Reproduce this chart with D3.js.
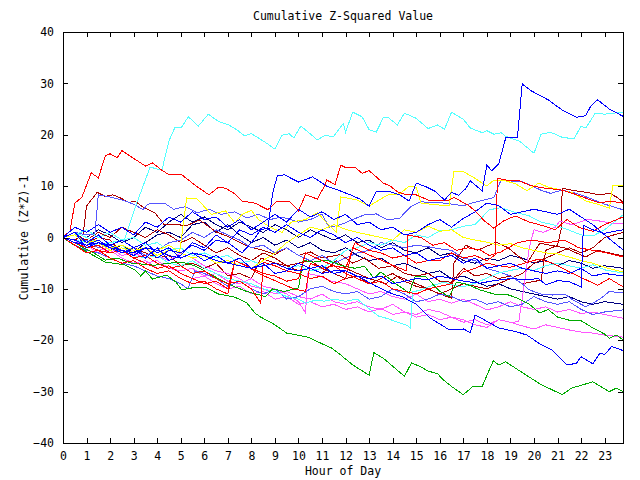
<!DOCTYPE html>
<html><head><meta charset="utf-8">
<script src="https://cdn.jsdelivr.net/npm/d3@7"></script>
<style>
html,body{margin:0;padding:0;background:#fff;}
text{font-family:"DejaVu Sans Mono",monospace;font-size:11.5px;fill:#000;}
</style></head>
<body><svg id="c" width="640" height="480"></svg>
<script>
// ---- data: [hour, cumulative value] ----
const hourTicks = d3.range(0, 24);
const valueTicks = [-40, -30, -20, -10, 0, 10, 20, 30, 40];
const xMax = 23.78;

const cyanTop = [[0,0],[0.5,-0.5],[1,-1],[1.5,-1.5],[2,-1],[2.6,-0.5],[3.1,6.3],[3.7,13.7],[4.2,13.1],[4.5,18.8],[4.76,21.5],[5.04,21.5],[5.32,23.5],[5.75,21.7],[6.17,24],[6.6,22.6],[7.0,22],[7.4,20.9],[7.7,19.8],[8.0,20.2],[8.15,19.8],[8.6,18.5],[9.0,17.2],[9.3,19.9],[9.6,20.2],[9.8,19.4],[10.1,21.7],[10.8,19],[11.1,19.8],[11.5,19.7],[11.9,22.2],[12.0,20.5],[12.3,24.4],[12.7,23.5],[13.0,21],[13.3,20.5],[13.6,23.3],[13.8,23.4],[14.2,21.9],[14.5,24.2],[15.0,23.2],[15.5,21.2],[15.9,21.9],[16.2,21.1],[16.5,24.4],[17.0,23],[17.3,21.3],[17.8,20.4],[18.0,20.8],[18.3,20.1],[18.6,20.4],[18.8,19.7],[19.4,18.7],[20.0,16.4],[20.3,20.1],[20.7,20.5],[21.2,19.5],[21.7,19.2],[22.0,21.7],[22.2,21.3],[22.6,24.2],[23.0,24.0],[23.78,24.4]];
const blueTop = [[0,0],[0.5,1],[1,-2],[1.5,-1],[2,-1.5],[2.5,-2.5],[3,-3.5],[3.5,-2],[4,-4],[4.5,-2.5],[5,-3],[5.5,-1.5],[6,-2.5],[6.5,-0.5],[7,-1],[7.6,-3],[8.0,-1],[8.4,1.5],[8.7,1.8],[8.9,8.6],[9.1,12],[9.4,12.2],[10.0,10.8],[10.6,11.8],[11.2,10],[11.7,9.2],[12.2,8.3],[12.6,7.5],[13.0,6.1],[13.3,8.9],[13.9,8.9],[14.3,8.3],[14.7,7.1],[15.0,10.6],[15.4,9.9],[15.8,9],[16.2,7.3],[16.5,8.8],[16.8,8.2],[17.1,9.5],[17.3,11],[17.8,9.1],[18.0,14.1],[18.2,13],[18.5,14.3],[18.8,19.4],[19.3,19.5],[19.5,29.9],[19.9,28.5],[20.6,26.8],[21.2,24.8],[21.8,23.4],[22.2,23.7],[22.4,25.5],[22.7,26.8],[23.2,25],[23.78,23.6]];
const greenBottom = [[0,0],[0.3,-1],[1.1,-3],[1.8,-4.8],[2.6,-5.3],[3.05,-6.3],[3.3,-7.5],[3.5,-6.5],[3.8,-8.1],[4.4,-7.3],[4.8,-8.7],[5.05,-10.2],[5.6,-9.7],[6.1,-9.8],[6.6,-11],[7.2,-11.5],[7.5,-12],[7.8,-12.7],[8.15,-14.7],[8.4,-15.5],[8.9,-16.7],[9.5,-18.6],[10.4,-19.4],[11.1,-20.9],[11.4,-21.5],[11.8,-22.9],[12.3,-24.8],[13.0,-26.8],[13.2,-22.4],[13.6,-23.5],[14.5,-27],[14.8,-24.4],[15.2,-25.2],[15.5,-26],[15.9,-26.5],[16.15,-27.7],[16.5,-29],[17.0,-30.6],[17.4,-29],[17.8,-29],[18.27,-24],[18.5,-24.8],[18.8,-24.2],[19.1,-25.1],[20.25,-28.5],[21.2,-30.6],[21.6,-29.3],[22.5,-28.1],[23.2,-30],[23.5,-29.3],[23.78,-30]];
const redTop = [[0,0],[0.3,1.3],[0.5,6.7],[0.8,7.8],[1.2,12.6],[1.5,11.6],[1.8,15.9],[2.0,16.3],[2.3,15.5],[2.5,16.9],[2.9,15.7],[3.5,13.9],[3.8,14.5],[4.2,13.1],[4.5,12.2],[5.05,12.2],[5.6,10.2],[6.2,8.3],[6.6,9.8],[6.9,9.6],[7.3,8.5],[7.6,7.1],[8.15,6.7],[8.7,5.4],[9.1,7.1],[9.6,7.1],[10.0,5.2],[10.3,8.3],[10.8,7.5],[11.1,10],[11.2,11.2],[11.55,10.3],[11.8,14.1],[12.0,13.6],[12.4,13.7],[12.7,12.5],[13.0,13],[13.6,10.6],[13.9,10],[14.2,8.9],[14.6,8.3],[15.0,8.3],[15.5,7.3],[16.3,7.1],[16.6,7.8],[17.2,6.3],[17.5,5.2],[17.9,3.2],[18.3,1.8],[18.7,3.2],[19.2,4.2],[19.8,3],[20.3,2.4],[20.9,1.5],[21.4,3.5],[21.9,2],[22.5,1.2],[23.0,2.5],[23.78,4]];
const red2 = [[0,0],[0.5,-1],[1,-1.5],[1.5,-2.5],[2,-3],[2.5,-2.5],[3,-4],[3.5,-5],[4,-6],[4.5,-5.5],[5,-7],[5.5,-8],[6,-9],[6.5,-8.5],[7,-10],[7.3,-4.5],[8,-6],[8.5,-7],[9,-7.5],[9.5,-8.5],[10,-8],[10.3,-3],[11,-4.5],[11.5,-5.5],[12,-6],[12.4,-1],[13,-2.5],[13.5,-3],[14,-4],[14.5,-3.5],[15,-5],[15.5,-4.5],[16,-4.5],[16.5,-3],[17,-4],[17.5,-3.5],[18,-4.5],[18.35,-3.4],[18.45,11.5],[18.8,11.2],[19.4,11],[19.8,10.2],[20.3,9.7],[20.9,9.4],[21.2,9.2],[21.7,8.5],[22.3,7.5],[22.8,6.7],[23.2,7.1],[23.78,6.7]];
const yellow1 = [[0,0],[0.5,0.5],[1,-1],[1.5,-0.5],[2,-2],[2.5,-1.5],[3,-2.5],[3.5,-2],[4,-3.5],[4.5,-2.5],[4.95,-3],[5.25,7.7],[5.7,7.5],[6.3,4.5],[6.9,5.2],[7.3,2.8],[7.6,4.5],[8.0,5.3],[8.3,3.5],[8.8,2.0],[9.3,1],[9.7,3],[10.3,3.5],[10.8,4.8],[11.3,2.4],[11.6,1],[11.8,7.9],[12.5,7.3],[13.0,6.1],[13.5,7.5],[13.8,8.3],[14.3,8.5],[14.7,10],[15.0,9.8],[15.2,6.7],[16.0,6.3],[16.4,6.3],[16.6,12.9],[17.0,12.8],[17.4,11.8],[17.8,10.6],[18.0,10],[18.3,11.2],[18.8,11.0],[19.2,10.5],[19.7,9.1],[20.2,10.6],[20.6,9.8],[21.2,9.2],[21.7,8.6],[22.2,7.1],[22.7,6.5],[23.2,5.7],[23.35,10.2],[23.78,10.2]];
const darkred1 = [[0,0],[0.5,-0.5],[0.85,0.5],[1.0,6.1],[1.45,8.8],[1.8,8],[2.1,8.3],[2.4,7.8],[2.8,6.8],[3.05,7.1],[3.4,5.9],[3.9,4.8],[4.3,2.5],[5.3,2.4],[5.8,3.4],[6.5,1.1],[7.0,0.2],[7.9,-1.8],[8.5,-2.5],[9.0,-3.3],[9.5,-2],[10,-3.5],[10.5,-2.8],[11,-4],[11.8,-3.3],[12.3,-5],[12.8,-4],[13.4,-6],[14,-5.5],[14.5,-7],[15,-7.5],[15.5,-7],[16,-8.5],[16.5,-8.7],[17,-6],[17.5,-7.5],[18,-7],[18.5,-8],[19,-7.5],[19.5,-9],[20.3,-8.3],[20.5,-2.5],[21.0,-1.5],[21.15,1.5],[21.2,9.6],[21.6,9.2],[22.2,8.8],[22.8,8.3],[23.2,8.6],[23.5,7.9],[23.78,6.9]];
const darkred2 = [[0,0],[0.5,0.5],[1,-1],[1.5,0],[2,-0.5],[2.5,-3],[3,-2],[3.5,-3],[4,-4],[4.5,-3.5],[5,-5.5],[5.5,-5],[6,-6],[6.5,-5],[7,-7.5],[7.5,-7],[8,-8],[8.4,-4],[9,-5],[9.5,-5.5],[10,-6.5],[10.5,-6],[11,-7],[11.6,-4.5],[12,-6],[12.5,-7],[13,-8],[13.7,-9],[14.2,-7.5],[15,-9],[15.5,-10],[16,-11],[16.5,-11.8],[16.6,-5],[17.1,-1.5],[17.6,-2.5],[18.4,-0.9],[18.9,-2],[19.7,-5],[20.25,-1.1],[20.7,-1.5],[21.3,-2],[21.8,-3],[22.2,-3.8],[22.7,-2.5],[23.2,-3],[23.78,-3.6]];
const darkred3 = [[0,0],[0.5,0.5],[1,-0.5],[1.5,1],[2,0],[2.5,2],[3,1],[3.5,0],[4,1.5],[4.5,0.5],[5,-1],[5.5,0],[6,-1.5],[6.5,-3],[7,-2],[7.5,-3.5],[8,-4.5],[8.5,-3],[9,-4],[9.5,-5.5],[10,-5],[10.5,-4.5],[11,-6],[11.5,-7],[12,-8],[12.5,-7.5],[13,-9],[13.5,-8],[14,-7],[14.5,-8.5],[15,-9.5],[15.5,-10],[16,-11],[16.5,-10],[17,-9],[17.5,-9.5],[18,-10],[18.5,-9],[19,-8],[19.5,-7],[20,-5],[20.5,-4],[21,-3],[21.5,-2],[22,-3],[22.5,-2],[23,0],[23.78,1]];
const magenta1 = [[0,0],[0.5,-1],[1,-1.5],[1.5,-3],[2,-2.5],[2.5,-4],[3,-5],[3.5,-4.5],[4,-6],[4.5,-5.5],[5,-7],[5.5,-8],[6,-7.5],[6.5,-9],[7,-10],[7.5,-9.5],[8,-11],[8.5,-10.5],[9,-12],[9.5,-11.5],[10,-13],[10.5,-12.5],[11,-13.5],[11.5,-13],[12,-14],[12.5,-13.5],[13,-14.5],[13.5,-13.8],[14,-15],[14.5,-14.5],[15,-15.5],[15.5,-15],[16,-16],[16.5,-15.5],[17,-16.5],[17.5,-16],[18,-17],[18.5,-16],[19,-16.5],[19.35,-16.4],[19.5,-12],[19.8,-2],[20.0,1.5],[20.4,1],[20.9,2],[21.1,3.2],[21.6,2.5],[22.3,3.5],[22.8,3.2],[23.3,2.8],[23.78,2.7]];
const magenta2 = [[0,0],[0.5,-0.5],[1,-2],[1.5,-1.5],[2,-3],[2.5,-2.5],[3,-4],[3.5,-5],[4,-4.5],[4.5,-6],[5,-6.5],[5.5,-6],[6,-7.5],[6.5,-7],[7,-8.5],[7.5,-9],[8,-8],[8.5,-9.5],[9,-10],[9.5,-11],[10,-12.5],[10.3,-14.7],[10.4,-7],[10.9,-7.5],[11.4,-8.5],[12,-9],[12.5,-10],[13,-11],[13.5,-10.5],[14,-11.5],[14.5,-12],[15,-11],[15.5,-12.5],[16,-12],[16.5,-12.8],[17,-12],[17.5,-13],[18,-14.1],[18.5,-13.5],[19,-12.5],[19.5,-13.5],[20,-14],[20.5,-13.5],[21,-14.5],[21.5,-14],[22,-14.8],[22.5,-14.5],[23,-15],[23.78,-15.7]];
const magenta3 = [[0,0],[0.5,-1],[1,-1.5],[1.5,-2.5],[2,-2],[2.5,-3.5],[3,-3],[3.5,-4],[4,-3.5],[4.5,-4.5],[5,-3],[5.5,-4],[6,-5.5],[6.5,-6.5],[7,-7],[7.5,-8],[8,-9.5],[8.5,-10],[9,-11],[9.5,-10.5],[10,-11.5],[10.5,-12],[11,-11],[11.5,-12.5],[12,-13],[12.5,-12.5],[13,-13.5],[13.5,-14],[14,-13],[14.5,-14.5],[15,-15],[15.5,-14],[16,-14.5],[16.5,-15.5],[17,-16],[17.5,-17],[18,-17.5],[18.5,-16],[19,-16.5],[19.5,-17.2],[20,-17.8],[20.5,-17],[21,-17.5],[21.5,-18],[22,-18.4],[22.5,-18.6],[23,-19],[23.78,-19.4]];
const blueBottom = [[0,0],[0.5,-0.5],[1,-1.5],[1.5,-1],[2,-2],[2.5,-2.5],[3,-3],[3.5,-2],[4,-2.5],[4.5,-3.5],[5,-4],[5.5,-3],[6,-3.5],[6.5,-4.5],[7,-5],[7.5,-5.5],[8,-6],[8.5,-5.5],[9,-5],[9.5,-6],[10,-6.5],[10.5,-6],[11,-7],[11.5,-6.5],[12,-6.5],[12.7,-8],[13.3,-9.5],[14,-11],[14.4,-11.5],[15,-13],[15.6,-15.7],[16.2,-17.4],[16.4,-18],[17.0,-17.8],[17.3,-18.5],[17.5,-15.1],[17.8,-15.8],[18.5,-17.6],[19.3,-18.4],[19.7,-19],[20.25,-20.7],[20.8,-22],[21.4,-24.8],[21.8,-24.5],[22.0,-23.2],[22.5,-24.6],[22.8,-22.5],[23.0,-22.8],[23.3,-21.2],[23.78,-22]];
const green2 = [[0,0],[0.5,-1],[0.9,-2.1],[1.3,-3],[1.8,-4.4],[2.3,-4],[2.9,-5],[3.9,-5.4],[4.5,-5],[5.05,-4.8],[5.6,-5.5],[6.2,-7],[6.8,-8.5],[7.3,-9.6],[7.8,-10.5],[8.2,-11],[8.6,-11.5],[8.9,-10],[9.4,-10.5],[10.0,-9.8],[10.2,-4.4],[10.6,-4.8],[11.2,-4.4],[11.8,-5.4],[12.4,-6],[12.8,-5.6],[13.2,-7.9],[13.5,-6.7],[14.1,-8.9],[14.7,-10.8],[14.95,-7.6],[15.4,-7.6],[16.0,-10.5],[16.4,-11.5],[16.7,-8.7],[17.1,-9],[17.7,-10.2],[18.3,-11],[18.8,-11],[19.3,-11.8],[19.8,-13],[20.25,-14.7],[20.6,-14],[21.0,-15.5],[21.5,-16.1],[22.0,-16.2],[22.5,-17.6],[23.0,-18.8],[23.2,-19.6],[23.5,-19],[23.78,-19.9]];
const slate1 = [[0,0],[0.5,-1],[1,-0.5],[1.5,-2],[2,-1.5],[2.5,-3],[3,-2],[3.5,-3.5],[4,-2.5],[4.5,-1],[5,-0.5],[5.5,1],[6,0],[6.5,1.5],[7,0.5],[7.5,-0.5],[8,-2],[8.5,-1.5],[9,-3],[9.5,-2],[10,-3.5],[10.5,-4.5],[11,-3.5],[11.5,-5],[12,-4],[12.5,-3],[13,-2.5],[13.5,-1],[14,-1.5],[14.5,-2],[15,-1.5],[15.5,-1.8],[16,-2.2],[16.5,-2.5],[17,-4],[17.5,-4.5],[18,-6],[18.5,-6.7],[19,-7.5],[19.5,-9],[19.8,-10.2],[20.3,-11],[20.8,-11.2],[21.3,-11],[21.6,-12],[22.2,-13.5],[22.8,-12],[23.2,-10.5],[23.78,-10.8]];
const slate2 = [[0,0],[0.5,-1.5],[1,-2.5],[1.5,-3],[2,-4],[2.5,-5],[3,-5.5],[3.5,-6.5],[4,-7.5],[4.5,-8],[5,-9],[5.3,-10],[5.6,-6.5],[6,-7],[6.5,-8],[7,-9.5],[7.5,-8.5],[8,-10],[8.5,-11],[9,-10],[9.5,-12],[10,-11.5],[10.5,-10],[11,-9.5],[11.5,-10.5],[12,-11],[12.5,-10.5],[13,-12],[13.5,-11.5],[14,-10],[14.5,-11],[15,-12.5],[15.5,-12],[16,-11],[16.5,-11.5],[17,-12.5],[17.5,-12],[18,-13],[18.5,-12.5],[19,-13.5],[19.5,-13],[20,-11.5],[20.5,-12.5],[21,-13],[21.5,-12.5],[22,-14],[22.5,-15],[23,-14.5],[23.78,-14.1]];
const slate3 = [[0,0],[0.5,1],[1,0.5],[1.35,0.5],[1.5,8.3],[1.9,8],[2.5,7.3],[3.0,6.5],[3.4,5.4],[3.6,6.5],[4.3,6.7],[4.7,5.5],[5.2,6],[5.7,4.8],[6.2,5.5],[6.7,4.5],[7.3,5],[7.8,3.8],[8.3,4.5],[8.8,3.5],[9.3,4],[10,3],[10.5,3.5],[11.0,4.5],[11.3,2],[11.8,2.5],[12.3,3.5],[12.8,4.4],[13.3,4.6],[13.8,3.4],[14.3,3.8],[14.8,6.1],[15.2,7],[15.5,6.8],[16,6.8],[16.5,6.5],[17,6.2],[17.6,7],[18.3,7.8],[18.6,11.2],[19.0,10.8],[19.4,11],[19.8,10.3],[20.3,9.2],[20.7,8.6],[21.2,9.2],[21.8,8.6],[22.4,7.6],[23.0,6.5],[23.78,5.4]];
const cyan2 = [[0,0],[0.5,1],[1,0],[1.5,-1],[2,-2],[2.5,-1.5],[3,-3.5],[3.5,-4],[4,-3.5],[4.5,-5],[5,-5.5],[5.5,-4.5],[6,-6],[6.5,-7],[7,-8],[7.5,-8.5],[8,-9],[8.5,-10],[9,-10.5],[9.5,-11.5],[10,-12],[10.3,-12.8],[10.7,-12.2],[11.1,-12.4],[11.5,-12],[12,-12.4],[12.5,-12],[12.9,-13.5],[13.4,-15.3],[13.8,-15.8],[14.2,-16.5],[14.6,-17.1],[14.75,-17.6],[14.85,-10.6],[15.2,-10.2],[15.7,-9.3],[16.2,-8.7],[16.6,-9.3],[17.0,-9.6],[17.5,-8.9],[18.0,-7.9],[18.5,-6.9],[19.0,-6.4],[19.5,-6],[20.0,-6.4],[20.5,-5.5],[21.0,-5],[21.5,-5.5],[22.0,-6],[22.5,-5.3],[23.0,-6.3],[23.78,-6.9]];
const cyan3 = [[0,0],[0.5,0.5],[1,1.5],[1.5,0],[2,1],[2.5,-0.5],[3,0],[3.5,-1.5],[4,-1],[4.5,-2.5],[5,-2],[5.5,-3.5],[6,-3],[6.5,-4],[7,-3.5],[7.5,-5],[8,-4.5],[8.5,-5.5],[9,-5],[9.5,-6],[10,-5.5],[10.5,-6.5],[11,-6],[11.5,-4.5],[12,-2.5],[12.5,-2],[13,-1],[13.5,-1.5],[14,-0.5],[14.5,-1],[15,0.5],[15.5,0],[16,1.3],[16.5,1.5],[17,2.2],[17.5,2.5],[18.1,5.4],[18.6,5.8],[19.2,4.9],[19.8,4.2],[20.3,3],[20.8,2.5],[21.4,1.6],[22.0,0.5],[22.5,0.3],[23.0,1.5],[23.78,4.4]];
const blue3 = [[0,0],[0.5,1],[1,-1],[1.5,0.5],[2,-1.5],[2.5,-0.5],[3,-2],[3.5,-1],[4,-3],[4.5,-2],[5,-4],[5.5,-3],[6,-4.5],[6.5,-3.5],[7,-5],[7.5,-4],[8,-6],[8.5,-5],[9,-7],[9.5,-6.5],[10,-5],[10.5,-6],[11,-5.5],[11.5,-7],[12,-6.5],[12.5,-7.5],[13,-8],[13.5,-7.5],[14,-9],[14.5,-8.5],[15,-8],[15.5,-8.2],[16,-7.5],[16.5,-8],[17,-8.5],[17.7,-8.9],[18.3,-8.4],[19,-8],[19.7,-8.2],[20.2,-8],[20.5,-9.2],[21,-8.4],[21.5,-8.6],[22.0,-9.6],[22.1,2.4],[22.5,1.5],[23,0.8],[23.4,1.2],[23.78,1.5]];
const blue4 = [[0,0],[0.5,2],[1,1],[1.5,2.5],[2,1],[2.5,2],[3,0.5],[3.5,3],[4,2],[4.5,4],[5,3],[5.5,5],[6,3.5],[6.5,4],[7,2],[7.5,3.5],[8,1.5],[8.5,3],[9,4.5],[9.5,3],[10,5.5],[10.5,4],[11,5],[11.5,3.5],[12,4.5],[12.5,2.5],[13,3],[13.5,1.5],[14,2],[14.5,0.5],[15,1],[15.5,2.5],[16,3.5],[16.5,2],[17,3.7],[17.5,5],[18,6.7],[18.5,6.2],[19,4.5],[19.5,5],[20,5.5],[20.5,5],[21,4.5],[21.5,5.5],[22,4],[22.5,2.5],[23,0.5],[23.4,-1],[23.78,-2.4]];
const blue5 = [[0,0],[0.5,-1],[1,-1.5],[1.5,-0.5],[2,-2],[2.5,-3],[3,-2],[3.5,-4],[4,-2],[4.5,-4.5],[5,-3.5],[5.5,-1],[6,-2],[6.5,0.5],[7,-1],[7.5,1.5],[8,0.5],[8.5,2],[9,1],[9.5,2.5],[10,1],[10.5,0],[11,1.5],[11.5,0.5],[12,-1],[12.5,0],[13,-1.5],[13.5,-2.5],[14,-2],[14.5,-3.5],[15,-3],[15.5,-4.5],[16,-4],[16.5,-3.5],[17,-5],[17.5,-4],[18,-6],[18.5,-5.5],[19,-5],[19.5,-6],[20,-6.5],[20.5,-7],[21,-6.5],[21.5,-7],[22,-6],[22.5,-7.5],[23,-7],[23.78,-7.5]];
const red3 = [[0,0],[0.5,-1],[1,-2],[1.5,-1.5],[2,-3],[2.5,-2.5],[3,-4],[3.5,-3.5],[4,-5],[4.5,-6],[5,-5.5],[5.5,-7],[6,-6.5],[6.5,-8],[7,-9],[7.5,-8.5],[8,-10],[8.4,-12.8],[8.5,-4.8],[9,-5.5],[9.5,-6.5],[10,-7],[10.5,-8],[11,-7.5],[11.5,-9],[12,-8],[12.3,-2],[12.8,-3],[13.3,-4],[13.8,-5],[14.3,-6],[14.6,-6.5],[14.65,0.5],[15.2,0],[15.7,-1.5],[16.2,-1],[16.7,-2.5],[17.2,-2],[17.7,-2.4],[18.1,-3.5],[18.6,-2.8],[19.3,-1],[19.9,-0.5],[20.6,-1],[21.3,-0.5],[21.9,-2],[22.5,-2.5],[23.1,-3],[23.78,-3.8]];
const red4 = [[0,0],[0.5,-1.5],[1,-3],[1.5,-2.5],[2,-4],[2.5,-5],[3,-4.5],[3.5,-6],[4,-7],[4.5,-6.5],[5,-8],[5.5,-9],[6,-8.5],[6.5,-10],[7,-11],[7.3,-4.5],[7.8,-5.5],[8.3,-7],[8.8,-8],[9.3,-9],[9.8,-10],[10.3,-10.5],[10.5,-5],[11,-6],[11.5,-5.5],[12,-7],[12.5,-8],[13,-9],[13.5,-8.5],[14,-10],[14.5,-10.5],[15,-11],[15.5,-10],[16,-9.5],[16.5,-9],[17,-6.7],[17.5,-6],[18,-5],[18.5,-5.5],[19,-5.8],[19.6,-5],[20.2,-4.2],[20.8,-5],[21.5,-6.7],[22.1,-8],[22.7,-9.3],[23.2,-8],[23.78,-9.6]];
const yellow2 = [[0,0],[0.5,-0.5],[1,-1.5],[1.5,-1],[2,-2.5],[2.5,-2],[3,-3],[3.5,-2],[4,-2.5],[4.5,-1.5],[5,-3],[5.5,-4],[6,-3.5],[6.5,-5],[7,-4.5],[7.5,-5.5],[8,-6],[8.5,-4.5],[9,-3],[9.5,-1],[10,0.5],[10.5,2],[11,1.5],[11.5,2.5],[12,1.6],[12.5,1],[13,0.5],[13.5,0],[14,-0.5],[14.5,1.5],[15,1],[15.5,2.2],[16,1.2],[16.5,1.5],[17,0],[17.5,-0.5],[18,-0.9],[18.5,-1.5],[19,-1.2],[19.5,-2],[20,-2.5],[20.5,-3],[21,-3.2],[21.5,-3.8],[22,-4.5],[22.5,-5],[23,-5.8],[23.78,-6.7]];
const navy1 = [[0,0],[0.5,-1],[1,-2],[1.5,-1],[2,-2.5],[2.5,-1.5],[3,-3],[3.5,-1],[4,0.5],[4.5,1],[5,0],[5.5,2.5],[6,3],[6.5,1],[7,2.5],[7.5,0.5],[8,-1],[8.5,0],[9,-1.5],[9.5,-0.5],[10,-2],[10.5,-1],[11,-2.5],[11.5,-3],[12,-2],[12.5,-3.5],[13,-4.5],[13.5,-4],[14,-5.5],[14.5,-5],[15,-6],[15.5,-7],[16,-6.5],[16.5,-8],[17,-7.5],[17.5,-8.5],[18,-9.5],[18.5,-9],[19,-10],[19.5,-10.5],[20,-11],[20.5,-11.5],[21,-12],[21.5,-11.5],[22,-12.5],[22.5,-13],[23,-12.5],[23.78,-13]];
const navy2 = [[0,0],[0.5,1],[1,0],[1.5,1.5],[2,0.5],[2.5,-1],[3,0],[3.5,2],[4,1],[4.5,3],[5,4.5],[5.5,3],[6,4],[6.5,2.5],[7,1.5],[7.5,3],[8,2],[8.5,1],[9,2.5],[9.5,1.5],[10,0],[10.5,1.5],[11,0.5],[11.5,-0.5],[12,0.5],[12.5,-1],[13,-0.5],[13.5,-2],[14,-1],[14.5,-2.5],[15,-3],[15.5,-2],[16,-3.5],[16.5,-3],[17,-4.5],[17.5,-5],[18,-4],[18.5,-4.5],[19,-3.5],[19.5,-4],[20,-5],[20.5,-4.5],[21,-5.5],[21.5,-4.5],[22,-5],[22.5,-6],[23,-5.5],[23.78,-6]];

const seriesList = [
  {data: navy1, color: "#000080"}, {data: navy2, color: "#000080"},
  {data: darkred3, color: "#aa0000"}, {data: darkred2, color: "#aa0000"}, {data: darkred1, color: "#aa0000"},
  {data: magenta3, color: "#ff55ff"}, {data: magenta2, color: "#ff55ff"}, {data: magenta1, color: "#ff55ff"},
  {data: slate2, color: "#5555ff"}, {data: slate1, color: "#5555ff"}, {data: slate3, color: "#5555ff"},
  {data: cyan2, color: "#55ffff"}, {data: cyan3, color: "#55ffff"}, {data: cyanTop, color: "#55ffff"},
  {data: yellow2, color: "#ffff00"}, {data: yellow1, color: "#ffff00"},
  {data: green2, color: "#00aa00"}, {data: greenBottom, color: "#00aa00"},
  {data: red4, color: "#ff0000"}, {data: red3, color: "#ff0000"}, {data: red2, color: "#ff0000"}, {data: redTop, color: "#ff0000"},
  {data: blue5, color: "#0000ff"}, {data: blue4, color: "#0000ff"}, {data: blue3, color: "#0000ff"},
  {data: blueBottom, color: "#0000ff"}, {data: blueTop, color: "#0000ff"}
];

// ---- drawing ----
const svg = d3.select("#c");
svg.append("rect").attr("width",640).attr("height",480).attr("fill","#fff");
const L = 63, R = 623, T = 32, B = 443;
const x = d3.scaleLinear().domain([0, xMax]).range([L, R]);
const y = d3.scaleLinear().domain([-40, 40]).range([B, T]);

const line = d3.line().x(d => x(d[0])).y(d => y(d[1]));
const plot = svg.append("g");
seriesList.forEach(s => {
  plot.append("path").attr("d", line(s.data)).attr("fill","none")
    .attr("stroke", s.color).attr("stroke-width",1).attr("shape-rendering","crispEdges");
});

function styleAxis(g){ g.select(".domain").remove(); g.selectAll("line").attr("stroke","#000").attr("shape-rendering","crispEdges");
  g.selectAll("text").attr("fill","#000").style("font-family","DejaVu Sans Mono, monospace").style("font-size","11.5px"); }

svg.append("g").attr("transform",`translate(0,${B})`)
  .call(d3.axisBottom(x).tickValues(hourTicks).tickFormat(d3.format("d")).tickSizeInner(-5).tickSizeOuter(0).tickPadding(9))
  .call(styleAxis);
svg.append("g").attr("transform",`translate(0,${T})`)
  .call(d3.axisTop(x).tickValues(hourTicks).tickFormat("").tickSizeInner(-5).tickSizeOuter(0))
  .call(styleAxis);
svg.append("g").attr("transform",`translate(${L},0)`)
  .call(d3.axisLeft(y).tickValues(valueTicks).tickFormat(d3.format("d")).tickSizeInner(-5).tickSizeOuter(0).tickPadding(9))
  .call(styleAxis);
svg.append("g").attr("transform",`translate(${R},0)`)
  .call(d3.axisRight(y).tickValues(valueTicks).tickFormat("").tickSizeInner(-5).tickSizeOuter(0))
  .call(styleAxis);

svg.append("rect").attr("x",L+0.5).attr("y",T+0.5).attr("width",R-L).attr("height",B-T)
  .attr("fill","none").attr("stroke","#000").attr("shape-rendering","crispEdges");

svg.append("text").attr("x",343).attr("y",20).attr("text-anchor","middle").text("Cumulative Z-Squared Value");
svg.append("text").attr("x",343).attr("y",475).attr("text-anchor","middle").text("Hour of Day");
svg.append("text").attr("transform","translate(28,238) rotate(-90)").attr("text-anchor","middle").text("Cumulative (Z*Z)-1");
</script></body></html>
